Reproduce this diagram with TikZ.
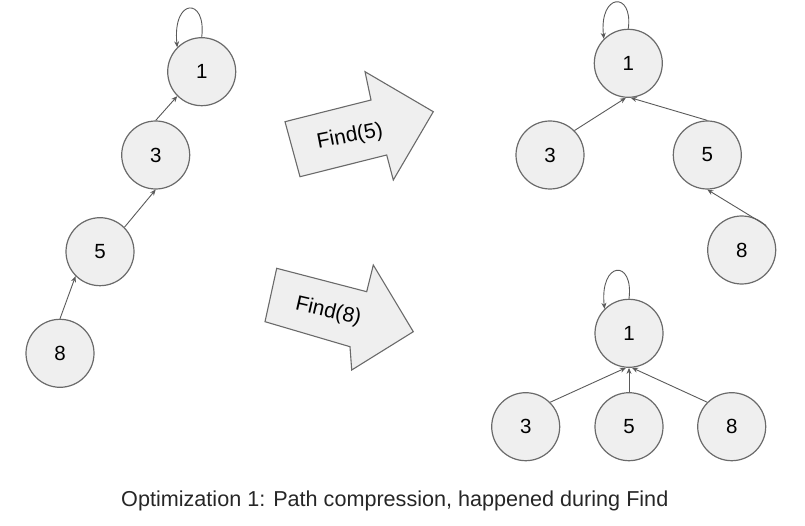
\documentclass[tikz,border=0pt]{standalone}
\usepackage{fontspec}
\setmainfont{Liberation Sans}
\usetikzlibrary{arrows.meta}
\definecolor{nodefill}{HTML}{EFEFEF}
\definecolor{nodeline}{HTML}{6A6A6A}
\definecolor{edgecol}{HTML}{5A5A5A}
\begin{document}
\begin{tikzpicture}[x=1pt,y=-1pt,
  vtx/.style={circle,draw=nodeline,fill=nodefill,line width=1.2pt,minimum size=68pt,inner sep=0pt,font=\fontsize{20.5}{24}\selectfont},
  edge/.style={draw=edgecol,line width=0.9pt,-{Stealth[length=6pt,width=5pt]}},
  blockarrow/.style={draw=nodeline,fill=nodefill,line width=1.1pt,line join=miter},
  lbl/.style={font=\fontsize{21}{25}\selectfont,inner sep=0pt}
]
\useasboundingbox (0,0) rectangle (805,526);
% left chain
\node[vtx] (L1) at (201.7,71.7) {1};
\node[vtx] (L3) at (155.7,155) {3};
\node[vtx] (L5) at (100,251.7) {5};
\node[vtx] (L8) at (60,353.3) {8};
\draw[edge] (L1.90) .. controls +(5,-40) and +(-5,-50) .. (L1.135);
\draw[edge] (L3.90) -- (L1.225);
\draw[edge] (L5.45) -- (L3.270);
\draw[edge] (L8.90) -- (L5.225);
% top right tree
\node[vtx] (A1) at (628.3,63.3) {1};
\node[vtx] (A3) at (550,155) {3};
\node[vtx] (A5) at (707.3,155) {5};
\node[vtx] (A8) at (741.7,250) {8};
\draw[edge] (A1.90) .. controls +(5,-38) and +(-5,-46) .. (A1.135);
\draw[edge] (A3.45) -- (A1.266);
\draw[edge] (A5.90) -- (A1.274);
\draw[edge] (A8.45) -- (A5.270);
% bottom right tree
\node[vtx] (B1) at (629,333.3) {1};
\node[vtx] (B3) at (525.7,426.7) {3};
\node[vtx] (B5) at (629,426.7) {5};
\node[vtx] (B8) at (731.7,426.7) {8};
\draw[edge] (B1.90) .. controls +(5,-40) and +(-5,-48) .. (B1.135);
\draw[edge] (B3.45) -- (B1.265);
\draw[edge] (B5.90) -- (B1.270);
\draw[edge] (B8.135) -- (B1.275);
% block arrows
\draw[blockarrow] (285,121.7) -- (371,100) -- (365,71.7) -- (433.3,111.7) -- (393.3,180) -- (386.7,155) -- (300,176.7) -- cycle;
\node[lbl,rotate=11] (f5) at (350,136.7) {Find(5)};
\draw[blockarrow] (276.7,268.3) -- (366.7,291.7) -- (373.3,265) -- (413.3,331.7) -- (351.7,370) -- (350,346.7) -- (265,321.7) -- cycle;
\node[lbl,rotate=-13] (f8) at (328.3,311.7) {Find(8)};
% caption
\node[anchor=base,inner sep=0pt,text=black!85,font=\fontsize{21.6}{26}\selectfont] (cap) at (394.8,506.7) {Optimization 1: Path compression, happened during Find};
\end{tikzpicture}
\end{document}
